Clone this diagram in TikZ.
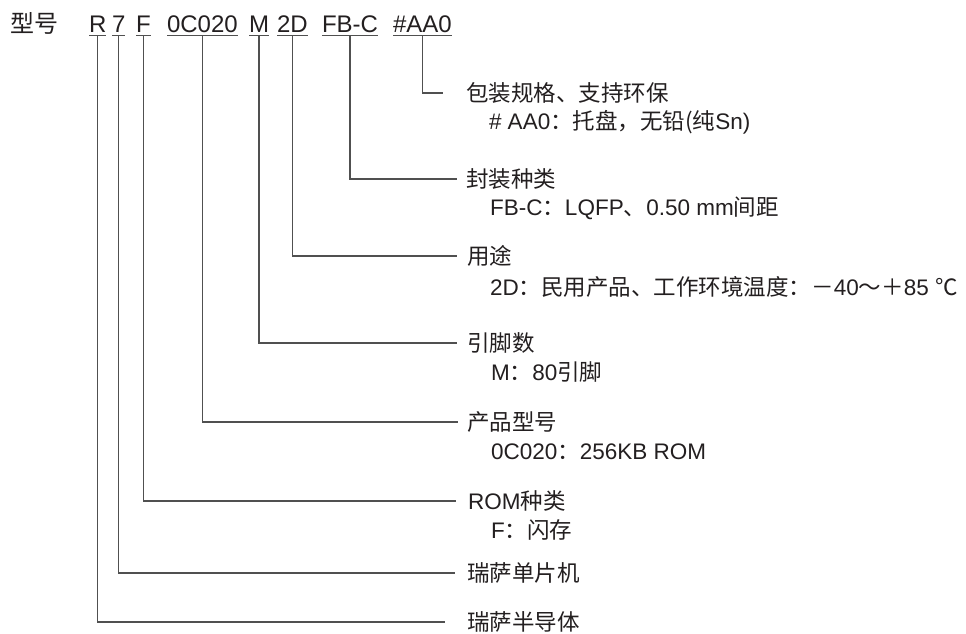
\documentclass[tikz,border=0pt]{standalone}
\usepackage{fontspec}
\setmainfont{Liberation Sans}
\newfontfamily\cjk{Noto Sans CJK SC}
\definecolor{txt}{HTML}{231F20}
\definecolor{lc}{HTML}{505050}
\begin{document}
\begin{tikzpicture}[x=1pt,y=-1pt,
  every node/.style={inner sep=0pt,outer sep=0pt,text=txt},
  code/.style={anchor=base west,font=\fontsize{24}{28}\selectfont},
  lab/.style={anchor=west,font=\fontsize{22.5}{26}\selectfont},
  conn/.style={draw=lc,line width=1.1pt}]
\useasboundingbox (0,0) rectangle (966,633);
\fill[white] (0,0) rectangle (966,633);
% top row
\node[code] (t0) at (10,32) {\cjk 型号};
\node[code] (cR) at (89,32) {R};
\node[code] (c7) at (112,32) {7};
\node[code] (cF) at (136,32) {F};
\node[code] (cN) at (167,32) {0C020};
\node[code] (cM) at (249,32) {M};
\node[code] (cD) at (277,32) {2D};
\node[code] (cP) at (322,32) {FB-C};
\node[code] (cA) at (393,32) {\#AA0};
\foreach \c in {cR,c7,cF,cN,cM,cD,cP,cA}{
  \draw[conn] ([yshift=-3.5pt]\c.base west) -- ([yshift=-3.5pt]\c.base east);
  \coordinate (u\c) at ([yshift=-3.5pt]\c.base);
}
% labels
\node[lab] (lA) at (466,93) {\cjk 包装规格、支持环保};
\node[lab] (sA) at (489,122) {\# AA0{\cjk ：托盘，无铅(纯}Sn)};
\node[lab] (lP) at (466,179) {\cjk 封装种类};
\node[lab] (sP) at (490,208) {FB-C{\cjk ：}LQFP{\cjk 、}0.50 mm{\cjk 间距}};
\node[lab] (lD) at (467,256) {\cjk 用途};
\node[lab] (sD) at (490,287) {2D{\cjk ：民用产品、工作环境温度：－}40{\cjk ～＋}85 {\cjk ℃}};
\node[lab] (lM) at (467,343) {\cjk 引脚数};
\node[lab] (sM) at (491,372) {M{\cjk ：}80{\cjk 引脚}};
\node[lab] (lN) at (467,422) {\cjk 产品型号};
\node[lab] (sN) at (491,452) {0C020{\cjk ：}256KB ROM};
\node[lab] (lF) at (468,501) {ROM{\cjk 种类}};
\node[lab] (sF) at (491,530) {F{\cjk ：闪存}};
\node[lab] (l7) at (467,573) {\cjk 瑞萨单片机};
\node[lab] (lR) at (467,622) {\cjk 瑞萨半导体};
% connector ends
\coordinate (eA) at ([xshift=-23pt]lA.west);
\coordinate (eP) at ([xshift=-9pt]lP.west);
\coordinate (eD) at ([xshift=-10pt]lD.west);
\coordinate (eM) at ([xshift=-10pt]lM.west);
\coordinate (eN) at ([xshift=-9pt]lN.west);
\coordinate (eF) at ([xshift=-12pt]lF.west);
\coordinate (e7) at ([xshift=-12pt]l7.west);
\coordinate (eR) at ([xshift=-22pt]lR.west);
\draw[conn] (ucA) |- (eA);
\draw[conn] (ucP) |- (eP);
\draw[conn] (ucD) |- (eD);
\draw[conn] (ucM) |- (eM);
\draw[conn] (ucN) |- (eN);
\draw[conn] (ucF) |- (eF);
\draw[conn] (uc7) |- (e7);
\draw[conn] (ucR) |- (eR);
\end{tikzpicture}
\end{document}
